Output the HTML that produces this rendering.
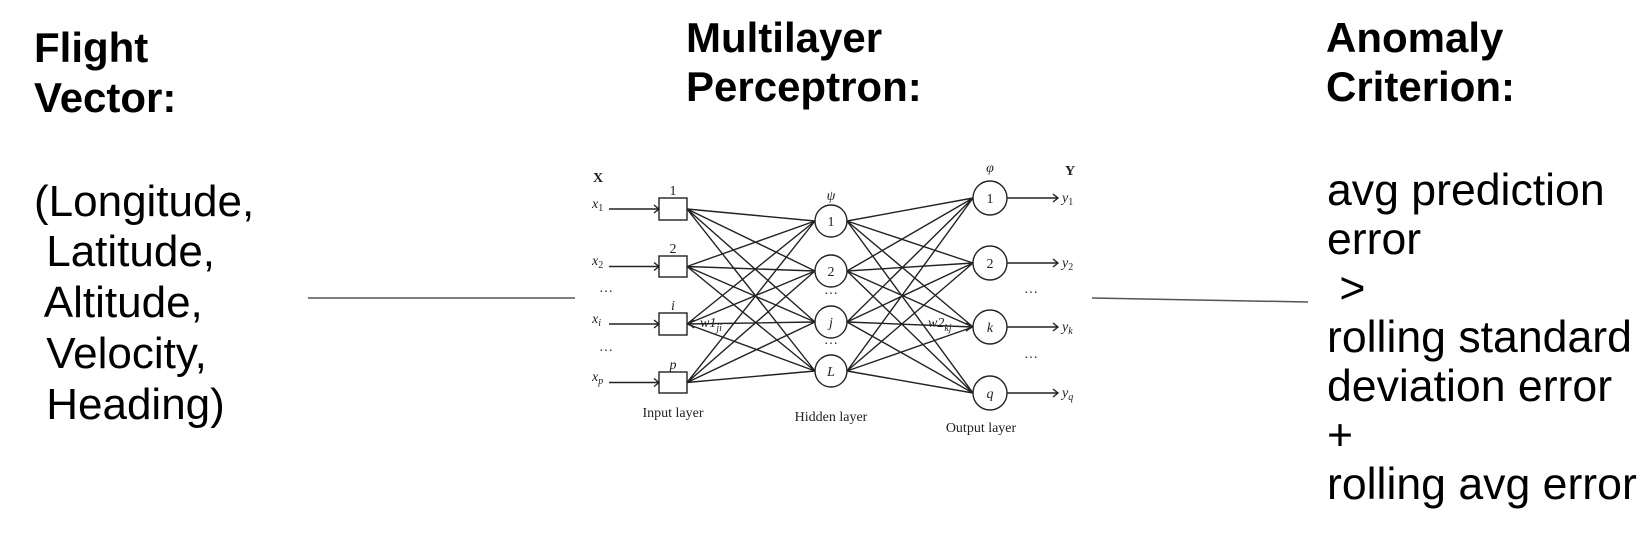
<!DOCTYPE html>
<html><head><meta charset="utf-8"><style>
html,body{margin:0;padding:0;background:#fff;width:1650px;height:538px;overflow:hidden}
</style></head><body>
<svg width="1650" height="538" viewBox="0 0 1650 538" xmlns="http://www.w3.org/2000/svg">
<g font-family="Liberation Sans, sans-serif" fill="#000">
<g font-weight="bold" font-size="42">
<text x="34" y="62">Flight</text>
<text x="34" y="112">Vector:</text>
<text x="686" y="52">Multilayer</text>
<text x="686" y="101">Perceptron:</text>
<text x="1326" y="52">Anomaly</text>
<text x="1326" y="101">Criterion:</text>
</g>
<g font-size="44">
<text x="34" y="216">(Longitude,</text>
<text x="34" y="266" xml:space="preserve"> Latitude,</text>
<text x="34" y="317" xml:space="preserve"> Altitude,</text>
<text x="34" y="368" xml:space="preserve"> Velocity,</text>
<text x="34" y="419" xml:space="preserve"> Heading)</text>
</g>
<g font-size="44.6">
<text x="1327" y="205">avg prediction</text>
<text x="1327" y="254">error</text>
<text x="1327" y="303" xml:space="preserve"> &gt;</text>
<text x="1327" y="352">rolling standard</text>
<text x="1327" y="401">deviation error</text>
<text x="1327" y="450">+</text>
<text x="1327" y="499">rolling avg error</text>
</g>
</g>
<line x1="308" y1="298" x2="575" y2="298" stroke="#555" stroke-width="1.5"/>
<line x1="1092" y1="298" x2="1308" y2="302" stroke="#555" stroke-width="1.5"/>

<g stroke="#222" stroke-width="1.4" fill="none">
<path d="M687 209L815 221M687 209L815 271M687 209L815 322M687 209L815 371
M687 266.5L815 221M687 266.5L815 271M687 266.5L815 322M687 266.5L815 371
M687 324L815 221M687 324L815 271M687 324L815 322M687 324L815 371
M687 382.5L815 221M687 382.5L815 271M687 382.5L815 322M687 382.5L815 371"/>
<path d="M847 221L973 198M847 221L973 263M847 221L973 327M847 221L973 393
M847 271L973 198M847 271L973 263M847 271L973 327M847 271L973 393
M847 322L973 198M847 322L973 263M847 322L973 327M847 322L973 393
M847 371L973 198M847 371L973 263M847 371L973 327M847 371L973 393"/>
<path d="M609 209H659M654 205L659 209L654 213"/>
<path d="M609 266.5H659M654 262.5L659 266.5L654 270.5"/>
<path d="M609 324H659M654 320L659 324L654 328"/>
<path d="M609 382.5H659M654 378.5L659 382.5L654 386.5"/>
<path d="M1007 198H1058M1053 194L1058 198L1053 202"/>
<path d="M1007 263H1058M1053 259L1058 263L1053 267"/>
<path d="M1007 327H1058M1053 323L1058 327L1053 331"/>
<path d="M1007 393H1058M1053 389L1058 393L1053 397"/>
<path d="M694 320L689 324L694 328"/>
<path d="M966 323L972 327L966 331"/>
</g>
<g stroke="#222" stroke-width="1.4" fill="#fff">
<rect x="659" y="198" width="28" height="22"/>
<rect x="659" y="256" width="28" height="21"/>
<rect x="659" y="313" width="28" height="22"/>
<rect x="659" y="372" width="28" height="21"/>
<circle cx="831" cy="221" r="16"/>
<circle cx="831" cy="271" r="16"/>
<circle cx="831" cy="322" r="16"/>
<circle cx="831" cy="371" r="16"/>
<circle cx="990" cy="198" r="17"/>
<circle cx="990" cy="263" r="17"/>
<circle cx="990" cy="327" r="17"/>
<circle cx="990" cy="393" r="17"/>
</g>
<g font-family="Liberation Serif, serif" fill="#222" font-size="14">
<text x="593" y="182" font-weight="bold">X</text>
<text x="1065" y="175" font-weight="bold">Y</text>
<text x="831" y="200" text-anchor="middle" font-style="italic">ψ</text>
<text x="990" y="172" text-anchor="middle" font-style="italic">φ</text>
<g font-style="italic">
<text x="592" y="208">x<tspan font-size="10" dy="3" font-style="normal">1</tspan></text>
<text x="592" y="265">x<tspan font-size="10" dy="3" font-style="normal">2</tspan></text>
<text x="592" y="323">x<tspan font-size="10" dy="3">i</tspan></text>
<text x="592" y="381">x<tspan font-size="10" dy="3">p</tspan></text>
<text x="1062" y="202">y<tspan font-size="10" dy="3" font-style="normal">1</tspan></text>
<text x="1062" y="267">y<tspan font-size="10" dy="3" font-style="normal">2</tspan></text>
<text x="1062" y="331">y<tspan font-size="10" dy="3">k</tspan></text>
<text x="1062" y="397">y<tspan font-size="10" dy="3">q</tspan></text>
<text x="700" y="327">w1<tspan font-size="10" dy="4">ji</tspan></text>
<text x="928" y="327">w2<tspan font-size="10" dy="4">kj</tspan></text>
</g>
<text x="673" y="195" text-anchor="middle">1</text>
<text x="673" y="253" text-anchor="middle">2</text>
<text x="673" y="310" text-anchor="middle" font-style="italic">i</text>
<text x="673" y="369" text-anchor="middle" font-style="italic">p</text>
<text x="831" y="226" text-anchor="middle">1</text>
<text x="831" y="276" text-anchor="middle">2</text>
<text x="831" y="327" text-anchor="middle" font-style="italic">j</text>
<text x="831" y="376" text-anchor="middle" font-style="italic">L</text>
<text x="990" y="203" text-anchor="middle">1</text>
<text x="990" y="268" text-anchor="middle">2</text>
<text x="990" y="332" text-anchor="middle" font-style="italic">k</text>
<text x="990" y="398" text-anchor="middle" font-style="italic">q</text>
<text x="606" y="296" text-anchor="middle">···</text>
<text x="606" y="355" text-anchor="middle">···</text>
<text x="831" y="298" text-anchor="middle">···</text>
<text x="831" y="348" text-anchor="middle">···</text>
<text x="1031" y="297" text-anchor="middle">···</text>
<text x="1031" y="362" text-anchor="middle">···</text>
<text x="673" y="417" text-anchor="middle">Input layer</text>
<text x="831" y="421" text-anchor="middle">Hidden layer</text>
<text x="981" y="432" text-anchor="middle">Output layer</text>
</g>
</svg>
</body></html>
